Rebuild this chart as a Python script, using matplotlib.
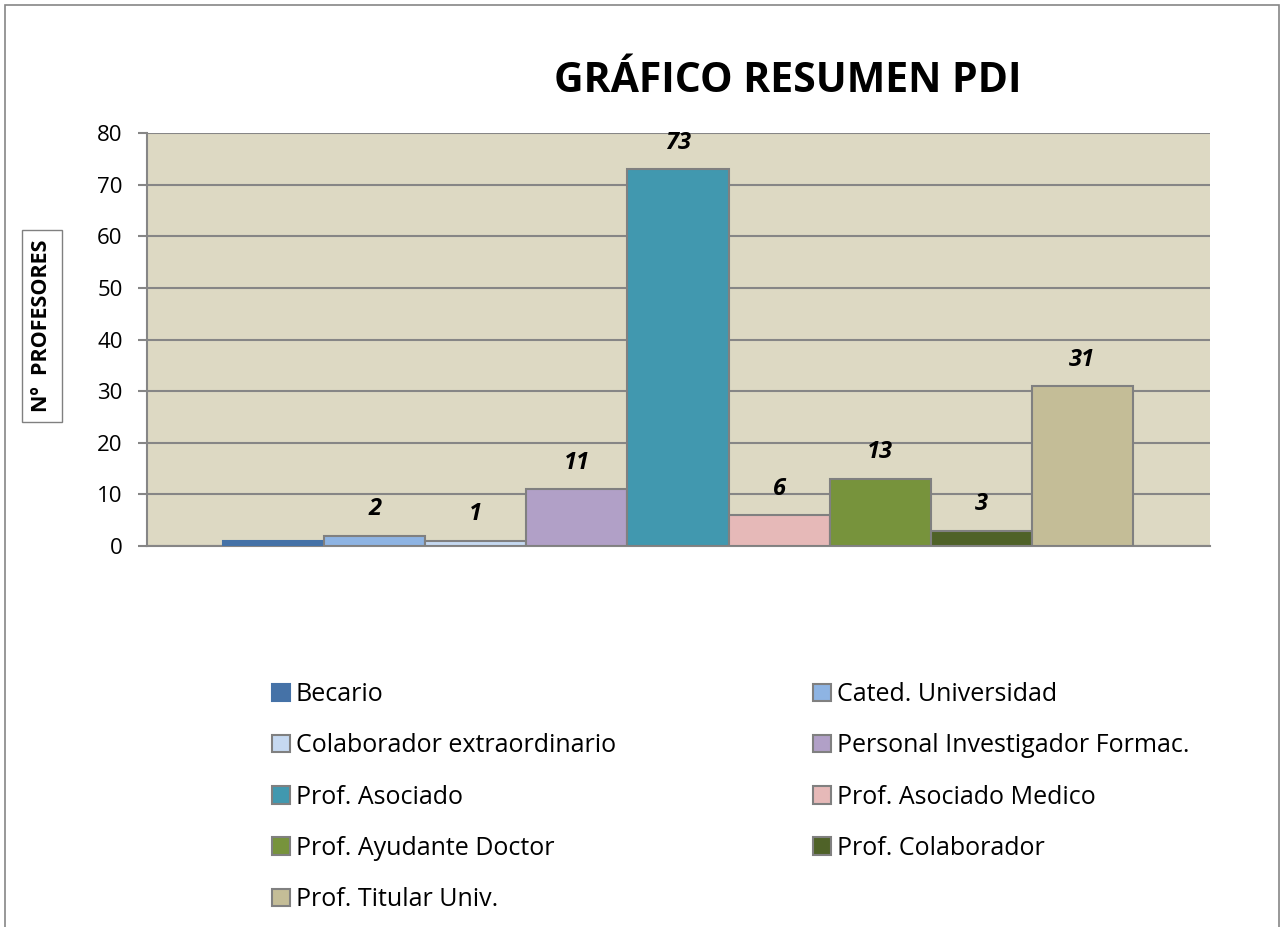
import matplotlib.pyplot as plt
from matplotlib.patches import Rectangle

categorias = ["Becario", "Cated. Universidad", "Colaborador extraordinario",
              "Personal Investigador Formac.", "Prof. Asociado", "Prof. Asociado Medico",
              "Prof. Ayudante Doctor", "Prof. Colaborador", "Prof. Titular Univ."]
valores = [1, 2, 1, 11, 73, 6, 13, 3, 31]
etiquetas = ["", "2", "1", "11", "73", "6", "13", "3", "31"]
colores = ["#4572A7", "#8EB4E3", "#C6D9F1", "#B1A0C7", "#4198AF",
           "#E6B9B8", "#77933C", "#4F6228", "#C4BD97"]

plt.rcParams['font.family'] = ['Open Sans', 'DejaVu Sans']

fig = plt.figure(figsize=(12.83, 9.27), dpi=100)
ax = fig.add_axes([147/1283, 1 - 546/927, (1210-147)/1283, (546-133)/927])
ax.set_facecolor("#DDD9C3")

# marco de la figura
fig.patches.append(Rectangle((5/1283, -0.01), (1279-5)/1283, 1 - 5/927 + 0.01,
                             transform=fig.transFigure, fill=False,
                             edgecolor="#868686", linewidth=1.2))

barras = []
for i, (v, c) in enumerate(zip(valores, colores)):
    ec = c if i == 0 else "#808080"
    b = ax.bar(i, v, width=1.0, color=c, edgecolor=ec, linewidth=1.5,
               label=categorias[i], zorder=3)
    barras.append(b)
    if etiquetas[i]:
        ax.text(i, v + 2.8, etiquetas[i], ha="center", va="bottom",
                fontsize=17, fontweight="bold", fontstyle="italic", zorder=4)

ax.set_xlim(-0.5 - 0.755, 8.5 + 0.765)
ax.set_ylim(0, 80)
ax.set_yticks(range(0, 81, 10))
ax.set_xticks([])
ax.grid(axis="y", color="#868686", linewidth=1.5, zorder=0)
for s in ["top", "right"]:
    ax.spines[s].set_visible(False)
for s in ["bottom", "left"]:
    ax.spines[s].set_color("#868686")
    ax.spines[s].set_linewidth(1.5)
ax.tick_params(axis="y", length=6.5, width=1.5, color="#868686", labelsize=16, pad=11)

fig.text(788/1283, 1 - 82/927, "GRÁFICO RESUMEN PDI", ha="center", va="center",
         fontsize=29.5, fontweight="bold")

fig.text(42/1283, 1 - 326/927, "Nº  PROFESORES", rotation=90, ha="center", va="center",
         fontsize=15.5, fontweight="bold",
         bbox=dict(boxstyle="square,pad=0.45", facecolor="white", edgecolor="#808080", linewidth=1))

orden = [0, 2, 4, 6, 8, 1, 3, 5, 7]
handles = [barras[i] for i in orden]
labels = [categorias[i] for i in orden]
ax.legend(handles, labels, ncol=2, loc="upper left",
          bbox_to_anchor=(262/1283, 1 - 672/927), bbox_transform=fig.transFigure,
          frameon=False, fontsize=18, handlelength=0.7, handleheight=0.7,
          handletextpad=0.25, labelspacing=1.05, columnspacing=7.9, borderaxespad=0)

fig.savefig("out.png", dpi=100)
